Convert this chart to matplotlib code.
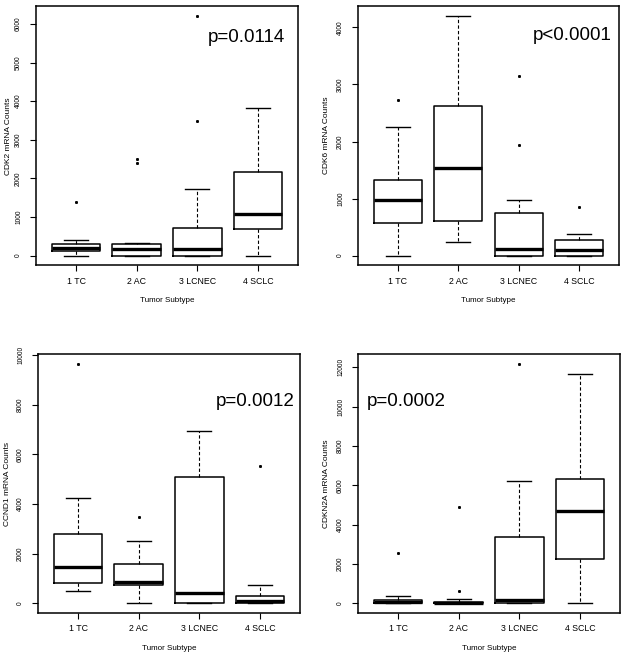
import matplotlib
matplotlib.use("Agg")
import matplotlib.pyplot as plt

plt.rcParams['font.family'] = ['Liberation Sans', 'DejaVu Sans']

groups = ["1 TC", "2 AC", "3 LCNEC", "4 SCLC"]

# CDK2
cdk2_whislo = [0, 0, 0, 0]
cdk2_q1 = [117, 0, 0, 679]
cdk2_med = [202, 168, 176, 1083]
cdk2_q3 = [290, 290, 705, 2171]
cdk2_whishi = [394, 324, 1715, 3813]
cdk2_fliers = [[1386], [2388, 2492], [3484, 6212], []]

# CDK6
cdk6_whislo = [0, 232, 0, 0]
cdk6_q1 = [570, 605, 0, 0]
cdk6_med = [974, 1540, 119, 102]
cdk6_q3 = [1330, 2628, 740, 267]
cdk6_whishi = [2254, 4202, 968, 372]
cdk6_fliers = [[2728], [], [1933, 3149], [845]]

# CCND1
ccnd1_whislo = [484, 0, 0, 0]
ccnd1_q1 = [806, 726, 0, 20]
ccnd1_med = [1464, 871, 427, 105]
ccnd1_q3 = [2782, 1573, 5093, 282]
ccnd1_whishi = [4234, 2500, 6948, 726]
ccnd1_fliers = [[9650], [3492], [], [5524]]

# CDKN2A
cdkn2a_whislo = [0, 0, 0, 0]
cdkn2a_q1 = [0, 0, 0, 2237]
cdkn2a_med = [80, 20, 168, 4708]
cdkn2a_q3 = [170, 60, 3387, 6335]
cdkn2a_whishi = [371, 203, 6202, 11642]
cdkn2a_fliers = [[2573], [625, 4880], [12180], []]

panels = [
    dict(name="CDK2 mRNA Counts", lo=cdk2_whislo, q1=cdk2_q1, med=cdk2_med, q3=cdk2_q3, hi=cdk2_whishi,
         fl=cdk2_fliers, p="p=0.0114", box=(36, 6.3, 298, 265.5), ylim=(-259, 6456), step=1000, ymax=6000,
         ptxt=(208, 42), ylx=8),
    dict(name="CDK6 mRNA Counts", lo=cdk6_whislo, q1=cdk6_q1, med=cdk6_med, q3=cdk6_q3, hi=cdk6_whishi,
         fl=cdk6_fliers, p="p<0.0001", box=(358, 6, 619, 265.5), ylim=(-175, 4377), step=1000, ymax=4000,
         ptxt=(533, 40), ylx=325),
    dict(name="CCND1 mRNA Counts", lo=ccnd1_whislo, q1=ccnd1_q1, med=ccnd1_med, q3=ccnd1_q3, hi=ccnd1_whishi,
         fl=ccnd1_fliers, p="p=0.0012", box=(38, 354, 300, 613), ylim=(-391, 10040), step=2000, ymax=10000,
         ptxt=(216, 406), ylx=7),
    dict(name="CDKN2A mRNA Counts", lo=cdkn2a_whislo, q1=cdkn2a_q1, med=cdkn2a_med, q3=cdkn2a_q3, hi=cdkn2a_whishi,
         fl=cdkn2a_fliers, p="p=0.0002", box=(358, 354, 620, 613), ylim=(-493, 12675), step=2000, ymax=12000,
         ptxt=(367, 406), ylx=325),
]

W, H = 621, 652
fig = plt.figure(figsize=(W / 100, H / 100), dpi=100)

for pn in panels:
    x0, y0, x1, y1 = pn["box"]
    aw, ah = x1 - x0, y1 - y0
    ax = fig.add_axes([x0 / W, 1 - y1 / H, aw / W, ah / H])
    stats = []
    for i in range(4):
        stats.append(dict(whislo=pn["lo"][i], q1=pn["q1"][i], med=pn["med"][i], q3=pn["q3"][i],
                          whishi=pn["hi"][i], fliers=pn["fl"][i]))
    ax.bxp(stats, positions=[1, 2, 3, 4], widths=0.8, showfliers=True,
           boxprops=dict(color="black", linewidth=1.1),
           medianprops=dict(color="black", linewidth=2.4, solid_capstyle="butt"),
           whiskerprops=dict(color="black", linewidth=0.8, linestyle=(0, (3, 2))),
           capprops=dict(color="black", linewidth=1.0),
           flierprops=dict(marker="s", markersize=1.1, markerfacecolor="black", markeredgecolor="black",
                           linestyle="none"),
           capwidths=0.4)
    ax.set_xlim(0.34, 4.66)
    ax.set_ylim(*pn["ylim"])
    ax.set_xticks([1, 2, 3, 4])
    ax.set_xticklabels(groups, fontsize=6.3)
    yt = list(range(0, pn["ymax"] + 1, pn["step"]))
    ax.set_yticks(yt)
    ax.set_yticklabels([str(v) for v in yt], fontsize=4.8, rotation=90, va="center")
    ax.tick_params(axis="both", direction="out", length=4, width=0.8, colors="black")
    ax.tick_params(axis="x", pad=4)
    ax.tick_params(axis="y", pad=6)
    for s in ax.spines.values():
        s.set_linewidth(1.1)
    ax.set_xlabel("Tumor Subtype", fontsize=5.8, va="center")
    ax.xaxis.set_label_coords(0.5, -35 / ah)
    ax.set_ylabel(pn["name"], fontsize=6.0, va="center")
    ax.yaxis.set_label_coords((pn["ylx"] + 1 - x0) / aw, 0.5)
    tx, ty = pn["ptxt"]
    fig.text(tx / W, 1 - ty / H, pn["p"], fontsize=13.5, ha="left", va="baseline")

fig.savefig("out.png", dpi=100)
